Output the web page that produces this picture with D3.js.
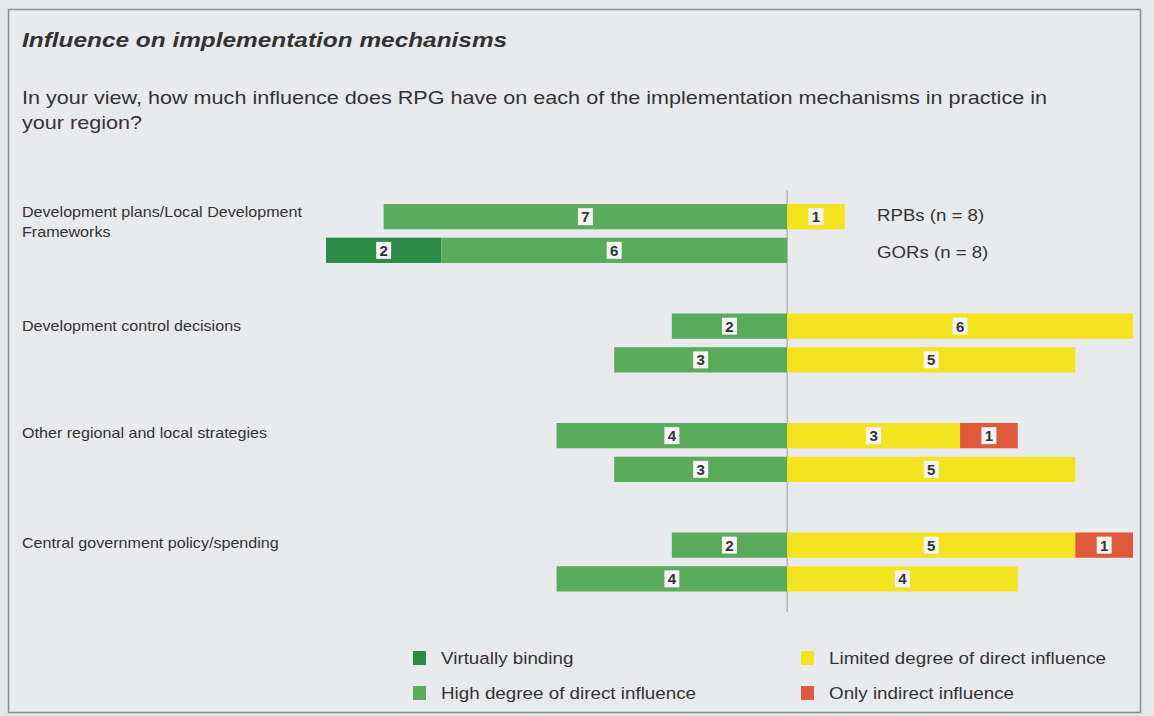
<!DOCTYPE html>
<html>
<head>
<meta charset="utf-8">
<script src="https://cdn.jsdelivr.net/npm/d3@7"></script>
<style>
  body { margin: 0; background: #e6e7ea; }
  text { font-family: "Liberation Sans", Arial, sans-serif; fill: #333; }
</style>
</head>
<body>
<div class="chart"></div>
<script>
// categories and groups
var categories = ["Development plans/Local Development Frameworks",
                  "Development control decisions",
                  "Other regional and local strategies",
                  "Central government policy/spending"];
var groups = ["RPBs (n = 8)", "GORs (n = 8)"];

// counts per category, RPBs
var rpbVirtual  = [0, 0, 0, 0];
var rpbHigh     = [7, 2, 4, 2];
var rpbLimited  = [1, 6, 3, 5];
var rpbIndirect = [0, 0, 1, 1];

// counts per category, GORs
var gorVirtual  = [2, 0, 0, 0];
var gorHigh     = [6, 3, 3, 4];
var gorLimited  = [0, 5, 5, 4];
var gorIndirect = [0, 0, 0, 0];

var legendLabels = ["Virtually binding", "High degree of direct influence",
                    "Limited degree of direct influence", "Only indirect influence"];
var colors = ["#2c8a47", "#5aab5c", "#f4e31f", "#e0593b"];

var width = 1154, height = 716;

var svg = d3.select(".chart").append("svg")
    .attr("width", width)
    .attr("height", height);

// the scanned type is wider than Arial, so text gets a horizontal stretch
function label(x, y, size, sx, str) {
  return svg.append("text")
    .attr("transform", "translate(" + x + "," + y + ") scale(" + sx + ",1)")
    .style("font-size", size + "px")
    .text(str);
}

// panel
svg.append("rect")
    .attr("x", 8.5).attr("y", 9.5)
    .attr("width", 1132).attr("height", 703)
    .attr("fill", "#e9eaed")
    .attr("stroke", "#8c8c8c")
    .attr("stroke-width", 1.5);

label(22, 47, 20, 1.22, "Influence on implementation mechanisms")
    .style("font-weight", "bold")
    .style("font-style", "italic");

label(22, 104, 18, 1.2, "In your view, how much influence does RPG have on each of the implementation mechanisms in practice in");
label(22, 129, 18, 1.2, "your region?");

// build the rows from the arrays
var rows = [];
categories.forEach(function(c, i) {
  rows.push({cat: c, group: groups[0], vals: [rpbVirtual[i], rpbHigh[i], rpbLimited[i], rpbIndirect[i]]});
  rows.push({cat: c, group: groups[1], vals: [gorVirtual[i], gorHigh[i], gorLimited[i], gorIndirect[i]]});
});

// segments: greens go left from zero, yellow/red go right
var segs = [];
rows.forEach(function(r) {
  var v = r.vals;
  var parts = [
    {k: 0, x0: -(v[1] + v[0]), x1: -v[1]},
    {k: 1, x0: -v[1], x1: 0},
    {k: 2, x0: 0, x1: v[2]},
    {k: 3, x0: v[2], x1: v[2] + v[3]}
  ];
  parts.forEach(function(p) {
    if (p.x1 - p.x0 > 0) segs.push({cat: r.cat, group: r.group, k: p.k, x0: p.x0, x1: p.x1, n: p.x1 - p.x0});
  });
});

// scales
var x = d3.scaleLinear().domain([-8, 6]).range([326, 1133]);
var y = d3.scalePoint().domain(categories).range([233.5, 562]);
var yg = d3.scaleBand().domain(groups).range([-29.5, 29.5]).paddingInner(0.25);

// zero line
svg.append("line")
    .attr("x1", x(0)).attr("x2", x(0))
    .attr("y1", 190).attr("y2", 612)
    .attr("stroke", "#9a9a9a")
    .attr("stroke-width", 1);

var bars = svg.selectAll(".seg").data(segs).enter().append("g").attr("class", "seg");

bars.append("rect")
    .attr("x", function(d) { return x(d.x0); })
    .attr("y", function(d) { return y(d.cat) + yg(d.group); })
    .attr("width", function(d) { return x(d.x1) - x(d.x0); })
    .attr("height", yg.bandwidth())
    .attr("fill", function(d) { return colors[d.k]; });

// white value boxes
bars.append("rect")
    .attr("x", function(d) { return x((d.x0 + d.x1) / 2) - 7.5; })
    .attr("y", function(d) { return y(d.cat) + yg(d.group) + yg.bandwidth() / 2 - 8.5; })
    .attr("width", 15)
    .attr("height", 17)
    .attr("fill", "#f4f4f4");

bars.append("text")
    .attr("x", function(d) { return x((d.x0 + d.x1) / 2); })
    .attr("y", function(d) { return y(d.cat) + yg(d.group) + yg.bandwidth() / 2 + 5.5; })
    .attr("text-anchor", "middle")
    .style("font-size", "15px")
    .style("font-weight", "bold")
    .text(function(d) { return d.n; });

// category labels
var catLines = [["Development plans/Local Development", "Frameworks"],
                ["Development control decisions"],
                ["Other regional and local strategies"],
                ["Central government policy/spending"]];
var offs = [-22, -17, -20, -19];
categories.forEach(function(c, i) {
  catLines[i].forEach(function(line, j) {
    label(22, y(c) + offs[i] + 5 + j * 20, 14, 1.15, line);
  });
});

// group labels beside the first category
groups.forEach(function(g) {
  label(877, y(categories[0]) + yg(g) + yg.bandwidth() / 2 + 6 + (g === groups[0] ? -2 : 2), 16.5, 1.13, g);
});

// legend
var legPos = [[413, 658], [413, 693], [801, 658], [801, 693]];
legendLabels.forEach(function(l, i) {
  svg.append("rect")
    .attr("x", legPos[i][0]).attr("y", legPos[i][1] - 7)
    .attr("width", 13).attr("height", 14)
    .attr("fill", colors[i]);
  label(legPos[i][0] + 28, legPos[i][1] + 6, 16.5, 1.14, l);
});
</script>
</body>
</html>
